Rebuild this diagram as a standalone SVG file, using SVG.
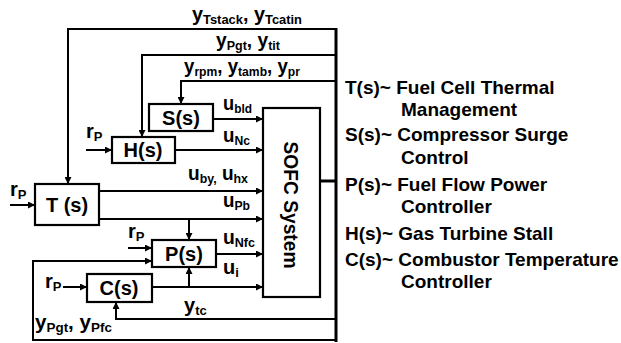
<svg xmlns="http://www.w3.org/2000/svg" width="621" height="343" viewBox="0 0 621 343">
<defs>
<style>
.ln{fill:none;stroke:#000;stroke-width:2}
.arr{fill:none;stroke:#000;stroke-width:2;marker-end:url(#ah)}
.box{fill:#fff;stroke:#000;stroke-width:2.2}
text{font-family:"Liberation Sans",Arial,sans-serif;font-weight:bold;fill:#000}
.lab{font-size:20px}
.sig{font-size:20px}
.sub{font-size:13px}
.leg{font-size:19px}
</style>
<marker id="ah" viewBox="0 0 10 10" refX="10" refY="5" markerWidth="9" markerHeight="7" markerUnits="userSpaceOnUse" orient="auto">
<path d="M0,0 L10,5 L0,10 z" fill="#000"/>
</marker>
</defs>
<rect width="621" height="343" fill="#fff"/>

<g id="connectors">
<line x1="336" y1="28" x2="336" y2="342" stroke="#000" stroke-width="3"/>
<line x1="320" y1="181" x2="336" y2="181" stroke="#000" stroke-width="3"/>
<polyline class="arr" points="336,29 68,29 68,184"/>
<polyline class="arr" points="336,55 142,55 142,137"/>
<polyline class="arr" points="336,81 181,81 181,104"/>
<line class="arr" x1="213" y1="119" x2="263" y2="119"/>
<line class="arr" x1="175" y1="150" x2="263" y2="150"/>
<line class="arr" x1="86" y1="150" x2="112" y2="150"/>
<line class="arr" x1="10" y1="205" x2="35" y2="205"/>
<line class="arr" x1="99" y1="191" x2="263" y2="191"/>
<line class="arr" x1="99" y1="219" x2="263" y2="219"/>
<line class="arr" x1="189" y1="219" x2="189" y2="240"/>
<line class="arr" x1="128" y1="248" x2="152" y2="248"/>
<line class="arr" x1="216" y1="254" x2="263" y2="254"/>
<polyline class="arr" points="336,340 33,340 33,261 152,261"/>
<line class="arr" x1="152" y1="287" x2="263" y2="287"/>
<line class="arr" x1="189" y1="287" x2="189" y2="267"/>
<line class="arr" x1="63" y1="287" x2="87" y2="287"/>
<polyline class="arr" points="336,319 116,319 116,302"/>
</g>

<g id="node-sofc">
<rect class="box" x="263" y="108" width="57" height="189"/>
<text class="lab" transform="translate(291,205) rotate(90)" text-anchor="middle" dy="0.35em" textLength="127" lengthAdjust="spacingAndGlyphs">SOFC System</text>
</g>
<g id="node-T">
<rect class="box" x="35" y="184" width="64" height="41"/>
<text class="lab" x="67" y="212" text-anchor="middle">T (s)</text>
</g>
<g id="node-S">
<rect class="box" x="149" y="104" width="64" height="27"/>
<text class="lab" x="181" y="125" text-anchor="middle">S(s)</text>
</g>
<g id="node-H">
<rect class="box" x="112" y="137" width="63" height="26"/>
<text class="lab" x="143" y="157" text-anchor="middle">H(s)</text>
</g>
<g id="node-P">
<rect class="box" x="152" y="240" width="64" height="27"/>
<text class="lab" x="184" y="261" text-anchor="middle">P(s)</text>
</g>
<g id="node-C">
<rect class="box" x="87" y="274" width="65" height="28"/>
<text class="lab" x="119" y="295" text-anchor="middle">C(s)</text>
</g>

<g id="labels">
<text class="sig" x="192" y="21" textLength="110" lengthAdjust="spacingAndGlyphs">y<tspan class="sub" dy="3">Tstack</tspan><tspan dy="-3">, y</tspan><tspan class="sub" dy="3">Tcatin</tspan></text>
<text class="sig" x="216" y="47" textLength="64" lengthAdjust="spacingAndGlyphs">y<tspan class="sub" dy="3">Pgt</tspan><tspan dy="-3">, y</tspan><tspan class="sub" dy="3">tit</tspan></text>
<text class="sig" x="184" y="73" textLength="116" lengthAdjust="spacingAndGlyphs">y<tspan class="sub" dy="3">rpm</tspan><tspan dy="-3">, y</tspan><tspan class="sub" dy="3">tamb</tspan><tspan dy="-3">, y</tspan><tspan class="sub" dy="3">pr</tspan></text>
<text class="sig" x="223" y="110" textLength="29" lengthAdjust="spacingAndGlyphs">u<tspan class="sub" dy="3">bld</tspan></text>
<text class="sig" x="223" y="142" textLength="27" lengthAdjust="spacingAndGlyphs">u<tspan class="sub" dy="3">Nc</tspan></text>
<text class="sig" x="188" y="180" textLength="60" lengthAdjust="spacingAndGlyphs">u<tspan class="sub" dy="3">by,</tspan><tspan dy="-3"> u</tspan><tspan class="sub" dy="3">hx</tspan></text>
<text class="sig" x="223" y="207" textLength="27" lengthAdjust="spacingAndGlyphs">u<tspan class="sub" dy="3">Pb</tspan></text>
<text class="sig" x="223" y="244" textLength="32" lengthAdjust="spacingAndGlyphs">u<tspan class="sub" dy="3">Nfc</tspan></text>
<text class="sig" x="223" y="274">u<tspan class="sub" dy="3">i</tspan></text>
<text class="sig" x="184" y="312">y<tspan class="sub" dy="3">tc</tspan></text>
<text class="sig" x="35" y="329" textLength="77" lengthAdjust="spacingAndGlyphs">y<tspan class="sub" dy="3">Pgt</tspan><tspan dy="-3">, y</tspan><tspan class="sub" dy="3">Pfc</tspan></text>
<text class="sig" x="10" y="196">r<tspan class="sub" dy="3">P</tspan></text>
<text class="sig" x="86" y="138">r<tspan class="sub" dy="3">P</tspan></text>
<text class="sig" x="128" y="238">r<tspan class="sub" dy="3">P</tspan></text>
<text class="sig" x="45" y="288">r<tspan class="sub" dy="3">P</tspan></text>
</g>

<g id="legend">
<text class="leg" x="345" y="94">T(s)~ Fuel Cell Thermal</text>
<text class="leg" x="401" y="116">Management</text>
<text class="leg" x="345" y="141">S(s)~ Compressor Surge</text>
<text class="leg" x="401" y="164">Control</text>
<text class="leg" x="345" y="191">P(s)~ Fuel Flow Power</text>
<text class="leg" x="401" y="213">Controller</text>
<text class="leg" x="345" y="240">H(s)~ Gas Turbine Stall</text>
<text class="leg" x="345" y="266">C(s)~ Combustor Temperature</text>
<text class="leg" x="401" y="288">Controller</text>
</g>
</svg>
